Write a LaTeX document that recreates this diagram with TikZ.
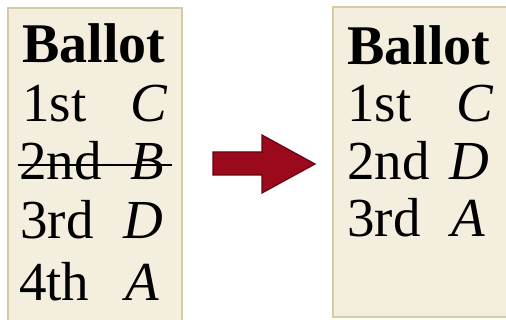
\documentclass[tikz,border=0pt]{standalone}
\usepackage{fontspec}
\setmainfont{Liberation Serif}
\definecolor{paper}{HTML}{F4EEDF}
\definecolor{paperedge}{HTML}{D6CCA0}
\definecolor{arrowred}{HTML}{9A0A1C}
\definecolor{arrowedge}{HTML}{6A0010}
\begin{document}
\begin{tikzpicture}[x=1pt,y=-1pt,
  ballot/.style={fill=paper,draw=paperedge,line width=2pt},
  txt/.style={inner sep=0pt,anchor=base west,font=\fontsize{55}{60}\selectfont},
  head/.style={txt,font=\fontsize{56}{60}\selectfont\bfseries},
  cand/.style={txt,font=\fontsize{55}{60}\selectfont\itshape}]
\useasboundingbox (0,0) rectangle (506,320);
% boxes
\path[ballot] (8,8) rectangle (182,322);
\path[ballot] (333,7) rectangle (510,317);
% left ballot
\node[head] (lh) at (22,63) {Ballot};
\node[txt] (l1) at (22,122) {1st};
\node[cand] (l1c) at (130,122) {C};
\node[txt] (l2) at (19,180) {2nd};
\node[cand] (l2c) at (130,180) {B};
\node[txt] (l3) at (20,239) {3rd};
\node[cand] (l3c) at (123,239) {D};
\node[txt] (l4) at (19,301) {4th};
\node[cand] (l4c) at (125,301) {A};
\coordinate (s1) at (18,165);
\coordinate (s2) at (172,165);
\draw[line width=1.8pt] (s1) -- (s2);
% arrow
\path[fill=arrowred,draw=arrowedge,line width=1.2pt,line join=miter]
  (213,152) -- (262,152) -- (262,135) -- (315,164) -- (262,193) -- (262,175) -- (213,175) -- cycle;
% right ballot
\node[head] (rh) at (347,65) {Ballot};
\node[txt] (r1) at (347,122) {1st};
\node[cand] (r1c) at (456,122) {C};
\node[txt] (r2) at (347,180) {2nd};
\node[cand] (r2c) at (449,180) {D};
\node[txt] (r3) at (347,237) {3rd};
\node[cand] (r3c) at (451,237) {A};
\end{tikzpicture}
\end{document}
